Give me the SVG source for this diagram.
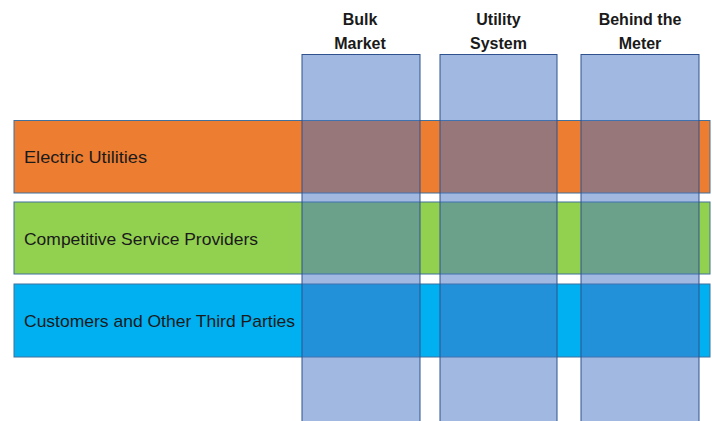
<svg xmlns="http://www.w3.org/2000/svg" width="712" height="421" viewBox="0 0 712 421">
<style>
.row{stroke:#41719C;stroke-width:1}
.col{fill:#4472C4;fill-opacity:0.5;stroke:#2F528F;stroke-width:1}
.lbl{font-family:"Liberation Sans",Arial,sans-serif;font-size:17px;fill:#1a1a1a}
.hdr{font-family:"Liberation Sans",Arial,sans-serif;font-size:16px;font-weight:bold;fill:#1a1a1a;text-anchor:middle}
</style>
<rect width="712" height="421" fill="#ffffff"/>
<g id="row-electric">
<rect class="row" x="14" y="120.5" width="696" height="72.5" fill="#ED7D31"/>
<text class="lbl" x="24" y="163" textLength="123" lengthAdjust="spacingAndGlyphs">Electric Utilities</text>
</g>
<g id="row-competitive">
<rect class="row" x="14" y="202" width="696" height="72" fill="#92D050"/>
<text class="lbl" x="24" y="245" textLength="234" lengthAdjust="spacingAndGlyphs">Competitive Service Providers</text>
</g>
<g id="row-customers">
<rect class="row" x="14" y="284" width="696" height="73" fill="#00B0F0"/>
<text class="lbl" x="24" y="327" textLength="271" lengthAdjust="spacingAndGlyphs">Customers and Other Third Parties</text>
</g>
<g id="col-bulk">
<rect class="col" x="302" y="54.5" width="118" height="370"/>
<text class="hdr" x="360" y="25">Bulk</text>
<text class="hdr" x="360" y="48.5">Market</text>
</g>
<g id="col-utility">
<rect class="col" x="440" y="54.5" width="117" height="370"/>
<text class="hdr" x="498.5" y="25">Utility</text>
<text class="hdr" x="498.5" y="48.5">System</text>
</g>
<g id="col-behind">
<rect class="col" x="581" y="54.5" width="118" height="370"/>
<text class="hdr" x="640" y="25">Behind the</text>
<text class="hdr" x="640" y="48.5">Meter</text>
</g>
<g id="connectors"></g>
</svg>
